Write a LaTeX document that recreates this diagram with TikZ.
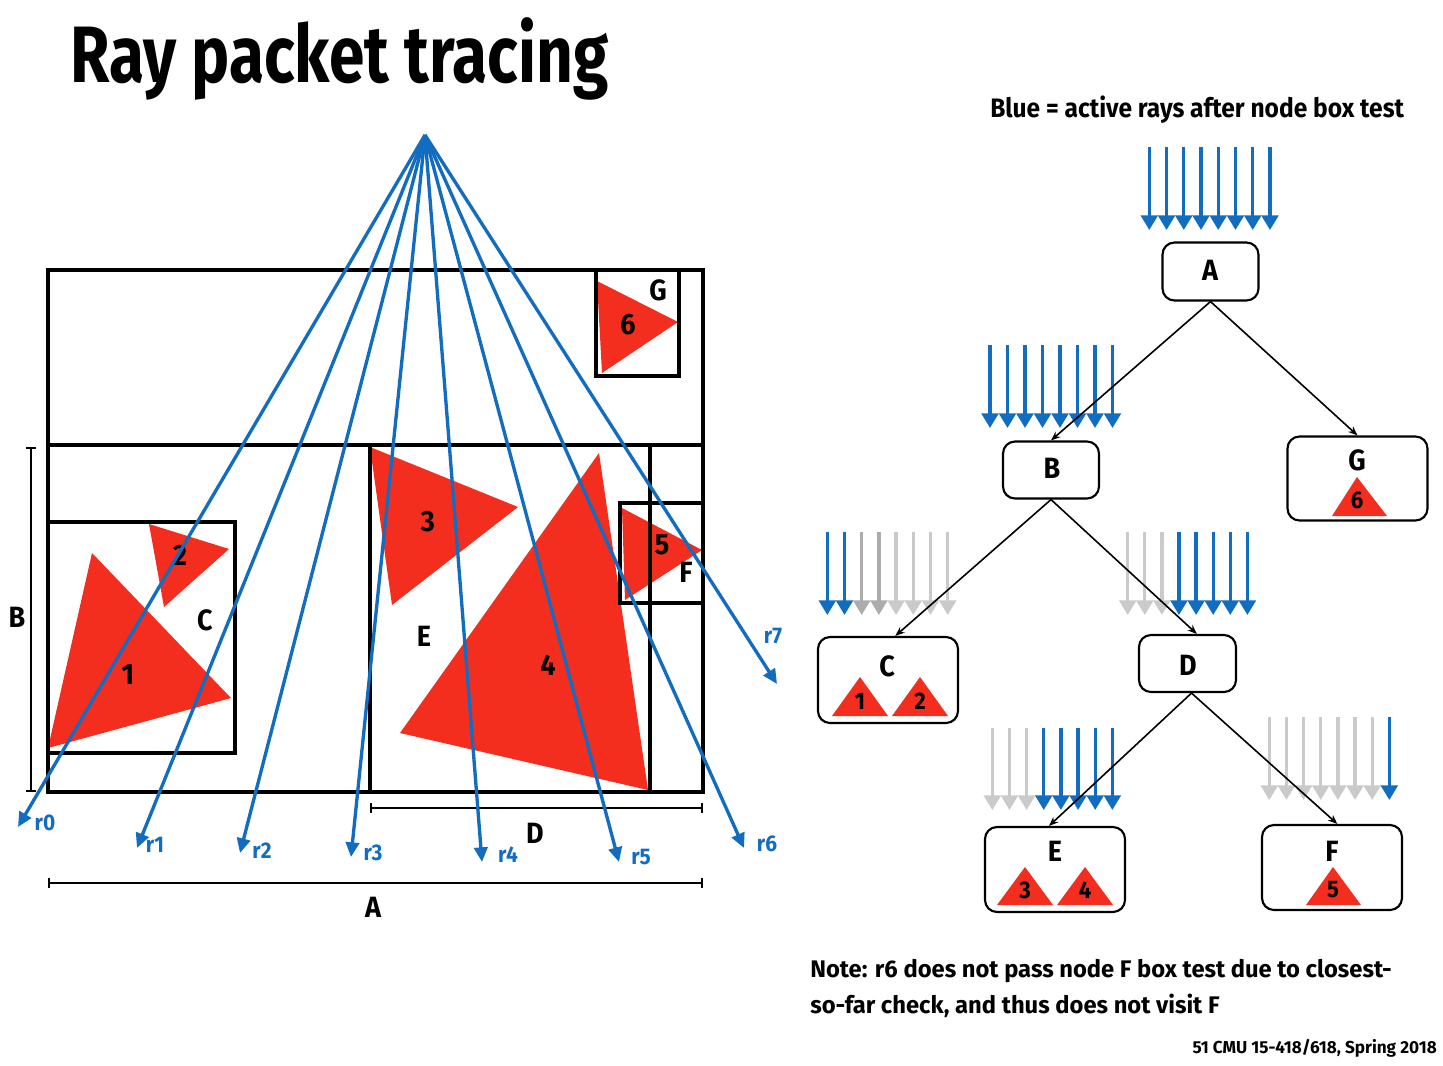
\documentclass[tikz,border=0pt]{standalone}
\usepackage{fontspec}
\setmainfont{Fira Sans}[FakeStretch=0.92]
\newfontfamily\titlefont{Fira Sans}[FakeStretch=0.8]
\newfontfamily\notefont{Fira Sans}[FakeStretch=0.99]
\usetikzlibrary{arrows.meta}
\definecolor{rayblue}{RGB}{18,108,192}
\definecolor{trired}{RGB}{243,46,30}
\definecolor{lgray}{RGB}{202,202,202}
\definecolor{mgray}{RGB}{172,172,172}
\tikzset{
  bx/.style={draw=black, line width=2.5pt},
  ray/.style={draw=rayblue, line width=2.5pt, -{Triangle[length=11pt,width=10pt]}},
  pk/.style={line width=2.5pt, -{Triangle[length=11pt,width=12.5pt]}},
  tri/.style={fill=trired},
  dim/.style={line width=1.2pt, {Bar[width=7pt]}-{Bar[width=7pt]}},
  lbl/.style={font=\bfseries\fontsize{22}{24}\selectfont, inner sep=0pt},
  rlab/.style={text=rayblue, font=\bfseries\fontsize{17}{19}\selectfont, inner sep=0pt},
  tnode/.style={draw, rounded corners=9pt, line width=1.6pt},
  tnum/.style={font=\bfseries\fontsize{18}{20}\selectfont, inner sep=0pt},
  edge/.style={line width=1.2pt, -{Stealth[length=7pt,width=5.5pt]}},
}
\begin{document}
\begin{tikzpicture}[x=0.75pt,y=-0.75pt]
\useasboundingbox (0,0) rectangle (1443,1065);
\fill[white] (0,0) rectangle (1443,1065);

% title
\node[anchor=base west, inner sep=0pt, font=\titlefont\bfseries\fontsize{60}{64}\selectfont] (title) at (70,82) {Ray packet tracing};

% ---------- left scene ----------
% triangles
\fill[tri] (92,553) -- (48,748) -- (231,698) -- cycle;
\fill[tri] (149,524) -- (229,549) -- (164,607) -- cycle;
\fill[tri] (370,447) -- (518,507) -- (392,605) -- cycle;
\fill[tri] (599,453) -- (400,733) -- (648,790) -- cycle;
\fill[tri] (622,508) -- (702,550) -- (625,600) -- cycle;
\fill[tri] (597,281) -- (678,322) -- (602,373) -- cycle;

% boxes
\draw[bx] (48,270) rectangle (703,792);
\draw[bx] (48,445) -- (703,445);
\draw[bx] (370,445) -- (370,792);
\draw[bx] (650,445) -- (650,792);
\draw[bx] (620,503) rectangle (703,603);
\draw[bx] (596,270) rectangle (679,376);
\draw[bx] (48,522) rectangle (235,753);

% dimension lines
\draw[dim] (31,447) -- (31,792);
\draw[dim] (370,808) -- (703,808);
\draw[dim] (48,883) -- (703,883);

% labels
\node[lbl] (lB) at (17,617) {B};
\node[lbl] (lC) at (205,620) {C};
\node[lbl] (lE) at (424,636) {E};
\node[lbl] (lD) at (535,833) {D};
\node[lbl] (lA) at (373,907) {A};
\node[lbl] (lG) at (658,290) {G};
\node[lbl] (lF) at (686,572) {F};
\node[lbl] (n1) at (128,675) {1};
\node[lbl] (n2) at (180,555) {2};
\node[lbl] (n3) at (428,522) {3};
\node[lbl] (n4) at (548,665) {4};
\node[lbl] (n5) at (662,545) {5};
\node[lbl] (n6) at (628,325) {6};

% rays
\coordinate (o) at (425,135);
\coordinate (t0) at (18,827);
\coordinate (t1) at (137,848);
\coordinate (t2) at (240,853);
\coordinate (t3) at (351,857);
\coordinate (t4) at (482,862);
\coordinate (t5) at (619,862);
\coordinate (t6) at (744,848);
\coordinate (t7) at (777,684);
\foreach \k in {0,...,7} \draw[ray] (o) -- (t\k);
\node[rlab] (r0) at (45,823) {r0};
\node[rlab] (r1) at (155,845) {r1};
\node[rlab] (r2) at (262,851) {r2};
\node[rlab] (r3) at (373,853) {r3};
\node[rlab] (r4) at (508,855) {r4};
\node[rlab] (r5) at (641,857) {r5};
\node[rlab] (r6) at (767,844) {r6};
\node[rlab] (r7) at (773,636) {r7};

% ---------- tree ----------
\node[anchor=base west, inner sep=0pt, font=\bfseries\fontsize{20}{22}\selectfont] (legend) at (990,117) {Blue = active rays after node box test};

% ray packets
\foreach \c [count=\i from 0] in {rayblue,rayblue,rayblue,rayblue,rayblue,rayblue,rayblue,rayblue}
  \draw[pk,\c] ({1149.3+\i*17.24},147) -- ({1149.3+\i*17.24},230);
\foreach \c [count=\i from 0] in {rayblue,rayblue,rayblue,rayblue,rayblue,rayblue,rayblue,rayblue}
  \draw[pk,\c] ({990+\i*17.5},345) -- ({990+\i*17.5},428);
\foreach \c [count=\i from 0] in {rayblue,rayblue,mgray,mgray,lgray,lgray,lgray,lgray}
  \draw[pk,\c] ({827.3+\i*17.2},532) -- ({827.3+\i*17.2},615);
\foreach \c [count=\i from 0] in {lgray,lgray,lgray,rayblue,rayblue,rayblue,rayblue,rayblue}
  \draw[pk,\c] ({1127.7+\i*17.1},532) -- ({1127.7+\i*17.1},615);
\foreach \c [count=\i from 0] in {lgray,lgray,lgray,rayblue,rayblue,rayblue,rayblue,rayblue}
  \draw[pk,\c] ({992.3+\i*17.15},728) -- ({992.3+\i*17.15},810);
\foreach \c [count=\i from 0] in {lgray,lgray,lgray,lgray,lgray,lgray,lgray,rayblue}
  \draw[pk,\c] ({1269.3+\i*17.15},717) -- ({1269.3+\i*17.15},800);

% tree nodes
\node[tnode, minimum width=96*0.75pt, minimum height=58*0.75pt] (A) at (1210.5,271.5) {};
\node[tnode, minimum width=96*0.75pt, minimum height=57*0.75pt] (B) at (1051,470) {};
\node[tnode, minimum width=140*0.75pt, minimum height=84*0.75pt] (G) at (1357.5,478.5) {};
\node[tnode, minimum width=140*0.75pt, minimum height=86*0.75pt] (C) at (888,680) {};
\node[tnode, minimum width=97*0.75pt, minimum height=57*0.75pt] (D) at (1187.5,663.5) {};
\node[tnode, minimum width=140*0.75pt, minimum height=85*0.75pt] (E) at (1055,869.5) {};
\node[tnode, minimum width=140*0.75pt, minimum height=85*0.75pt] (F) at (1332,867.5) {};

\node[lbl] (tA) at (1210,270) {A};
\node[lbl] (tB) at (1052,468) {B};
\node[lbl] (tG) at (1357,460) {G};
\node[lbl] (tC) at (887,666) {C};
\node[lbl] (tD) at (1188,665) {D};
\node[lbl] (tE) at (1055,851) {E};
\node[lbl] (tF) at (1332,851) {F};

% leaf triangles
\fill[tri] (1332,516) -- (1387,516) -- (1357,477) -- cycle;
\node[tnum] (g6) at (1357,500) {6};
\fill[tri] (832,716) -- (888,716) -- (860,677) -- cycle;
\node[tnum] (c1) at (860,701) {1};
\fill[tri] (892,716) -- (948,716) -- (920,677) -- cycle;
\node[tnum] (c2) at (920,701) {2};
\fill[tri] (997,905) -- (1053,905) -- (1025,867) -- cycle;
\node[tnum] (e3) at (1025,890) {3};
\fill[tri] (1057,905) -- (1113,905) -- (1085,867) -- cycle;
\node[tnum] (e4) at (1085,890) {4};
\fill[tri] (1306,905) -- (1361,905) -- (1333,867) -- cycle;
\node[tnum] (f5) at (1333,890) {5};

% tree edges
\draw[edge] (A.south) -- (B.north);
\draw[edge] (A.south) -- (G.north);
\draw[edge] (B.south) -- ([xshift=5.5pt]C.north);
\draw[edge] (B.south) -- ([xshift=7pt]D.north);
\draw[edge] ([xshift=3pt]D.south) -- ([xshift=-4.5pt]E.north);
\draw[edge] ([xshift=3pt]D.south) -- ([xshift=4pt]F.north);

% note
\node[anchor=base west, inner sep=0pt, font=\notefont\bfseries\fontsize{18}{20}\selectfont] (note1) at (810,977) {Note: r6 does not pass node F box test due to closest-};
\node[anchor=base west, inner sep=0pt, font=\notefont\bfseries\fontsize{18}{20}\selectfont] (note2) at (810,1013) {so-far check, and thus does not visit F};
\node[anchor=base east, inner sep=0pt, font=\notefont\bfseries\fontsize{13}{15}\selectfont] (foot) at (1437,1053) {51 CMU 15-418/618, Spring 2018};
\end{tikzpicture}
\end{document}
